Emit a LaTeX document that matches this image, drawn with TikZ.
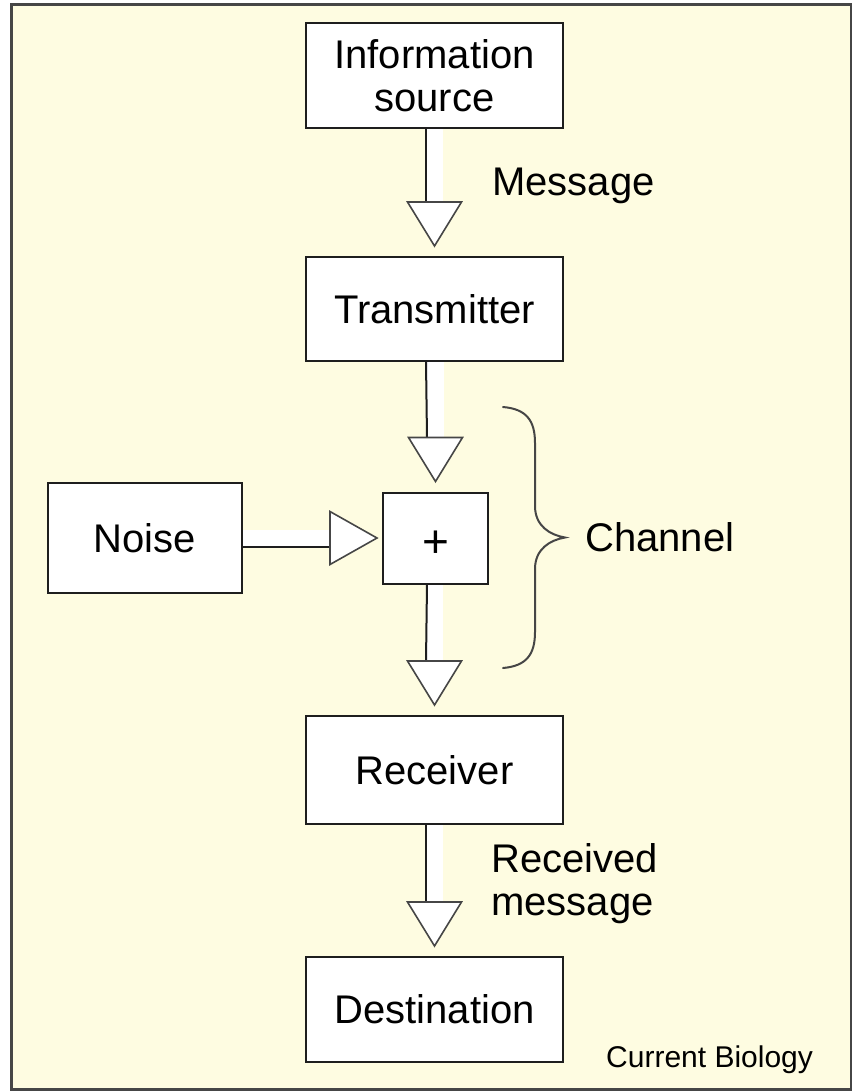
\documentclass[tikz,border=0pt]{standalone}
\usepackage{fontspec}
\setmainfont{Liberation Sans}
\usetikzlibrary{calc}
\definecolor{panel}{RGB}{254,252,225}
\definecolor{ink}{RGB}{30,30,30}
\definecolor{edge}{RGB}{70,70,70}

% hollow block arrow pointing down from #1 to #2
\newcommand\vflow[2]{%
  \fill[white] ($(#1.south)+(-8.5,0)$) rectangle ($(#2.north)+(8.5,-54)$);
  \draw[shaftline] ($(#1.south)+(-8.5,0)$) -- ($(#2.north)+(-8.5,-54)$);
  \filldraw[headline] ($(#2.north)+(0,-10)$) -- ++(-27,-44) -- ++(54,0) -- cycle;
}
% hollow block arrow pointing right from #1 to #2
\newcommand\hflow[2]{%
  \fill[white] ($(#1.east)+(0,-8.5)$) rectangle ($(#2.west)+(-52,8.5)$);
  \draw[shaftline] ($(#1.east)+(0,8.5)$) -- ($(#2.west)+(-52,8.5)$);
  \filldraw[headline] ($(#2.west)+(-5,0)$) -- ++(-47,-26.5) -- ++(0,53) -- cycle;
}

\begin{document}
\begin{tikzpicture}[x=1pt,y=-1pt,
  box/.style={draw=ink, line width=2pt, fill=white, inner sep=0pt, align=center,
              font=\fontsize{40}{43}\selectfont},
  label/.style={inner sep=0pt, align=left, font=\fontsize{40}{43}\selectfont},
  shaftline/.style={draw=ink, line width=2pt},
  headline/.style={fill=white, draw=edge, line width=1.6pt, line join=miter},
  bracket/.style={draw=edge, line width=2pt, line cap=round}]

  % page and panel
  \fill[white] (0,0) rectangle (854,1092);
  \useasboundingbox (0,0) rectangle (854,1092);
  \filldraw[fill=panel, draw=edge, line width=2.8pt] (11.5,4.8) rectangle (851,1089.5);

  % blocks
  \node[box, minimum width=257pt, minimum height=105pt] (src)  at (434.5,75.5)  {Information\\source};
  \node[box, minimum width=257pt, minimum height=104pt] (tx)   at (434.5,309)   {Transmitter};
  \node[box, minimum width=105pt, minimum height=91pt, font=\fontsize{46}{46}\selectfont,
        text height=38pt, text depth=0pt] (sum) at (435.5,538) {+};
  \node[box, minimum width=194pt, minimum height=110pt] (noise) at (145,538)    {Noise};
  \node[box, minimum width=257pt, minimum height=108pt] (rx)   at (434.5,770)   {Receiver};
  \node[box, minimum width=257pt, minimum height=105pt] (dst)  at (434.5,1009.5) {Destination};

  % flows
  \vflow{src}{tx}
  \vflow{tx}{sum}
  \vflow{sum}{rx}
  \vflow{rx}{dst}
  \hflow{noise}{sum}

  % labels
  \node[label, anchor=base west] (msg) at (492,195) {Message};
  \node[label, anchor=base west] (rmsg) at (491,915) {Received\\message};
  \node[label, anchor=west] (chan) at (585,537.5) {Channel};
  \node[inner sep=0pt, anchor=base west, font=\fontsize{30}{34}\selectfont] (journal) at (606,1067) {Current Biology};

  % channel brace
  \draw[bracket] (503,407) .. controls (526,409) and (535,420) .. (535,443)
                 -- (535,506) .. controls (535,526) and (550,535) .. (565,537.5)
                 .. controls (550,540) and (535,549) .. (535,569)
                 -- (535,632) .. controls (535,655) and (526,666) .. (503,668);
\end{tikzpicture}
\end{document}
